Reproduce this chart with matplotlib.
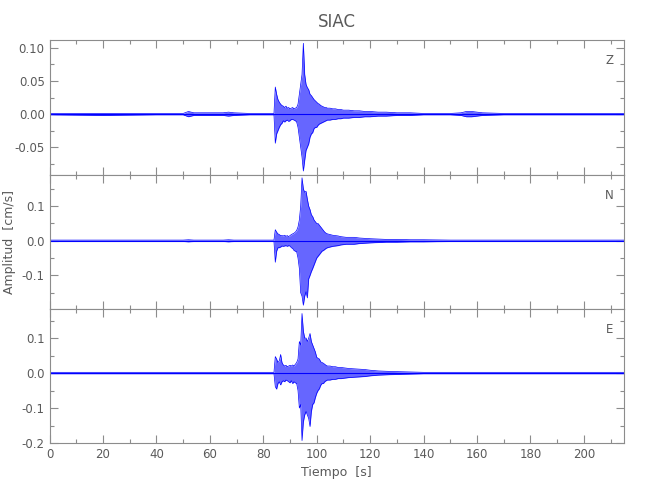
import matplotlib
matplotlib.use("Agg")
import matplotlib.pyplot as plt
from matplotlib.ticker import MultipleLocator, FormatStrFormatter

# ── Data: envelope of each trace (cm/s) ───────────────────────────────
t = [0, 20, 40, 50, 52, 54, 60, 65, 67, 69, 75, 84,
     84.5, 85, 85.5, 86, 86.5, 87, 87.5, 88, 88.5, 89, 89.5, 90, 90.5, 91,
     91.5, 92, 92.5, 93, 93.5, 94, 94.5, 95, 95.5, 96, 96.5, 97, 97.5, 98,
     98.5, 99, 99.5, 100, 100.5, 101, 101.5, 102, 102.5, 103, 103.5, 104,
     105, 106, 107, 108, 109, 110, 111, 112,
     114, 116, 118, 120, 123, 126, 130, 135, 140, 150,
     154, 156, 158, 160, 162,
     170, 185, 200, 215]

z_hi = [0.001, 0.001, 0.001, 0.001, 0.004, 0.002, 0.002, 0.002, 0.003, 0.002, 0.001, 0.001,
        0.041, 0.030, 0.022, 0.018, 0.015, 0.013, 0.012, 0.010, 0.012, 0.009, 0.010, 0.008,
        0.009, 0.010, 0.008, 0.009, 0.010, 0.015, 0.030, 0.045, 0.060, 0.107, 0.060, 0.045,
        0.040, 0.037, 0.030, 0.028, 0.025, 0.022, 0.020, 0.018, 0.016, 0.015, 0.013, 0.012,
        0.011, 0.010, 0.010, 0.009,
        0.009, 0.008, 0.008, 0.007, 0.007, 0.006, 0.006, 0.006,
        0.005, 0.005, 0.004, 0.004, 0.003, 0.003, 0.002, 0.002, 0.001, 0.001,
        0.002, 0.004, 0.004, 0.003, 0.002,
        0.001, 0.001, 0.001, 0.001]
z_lo = [-0.001, -0.002, -0.001, -0.001, -0.004, -0.002, -0.002, -0.002, -0.003, -0.002, -0.001, -0.001,
        -0.044, -0.030, -0.025, -0.020, -0.016, -0.014, -0.010, -0.012, -0.010, -0.009, -0.011, -0.010,
        -0.008, -0.008, -0.009, -0.010, -0.012, -0.020, -0.035, -0.050, -0.065, -0.086, -0.070, -0.055,
        -0.050, -0.045, -0.035, -0.030, -0.028, -0.022, -0.020, -0.020, -0.017, -0.015, -0.014, -0.013,
        -0.012, -0.011, -0.010, -0.009,
        -0.009, -0.008, -0.008, -0.007, -0.007, -0.006, -0.006, -0.006,
        -0.005, -0.005, -0.004, -0.004, -0.003, -0.003, -0.002, -0.002, -0.001, -0.001,
        -0.002, -0.004, -0.004, -0.003, -0.002,
        -0.001, -0.001, -0.001, -0.001]

n_hi = [0.002, 0.002, 0.002, 0.002, 0.003, 0.002, 0.002, 0.002, 0.003, 0.002, 0.002, 0.002,
        0.032, 0.025, 0.020, 0.018, 0.015, 0.015, 0.014, 0.016, 0.013, 0.015, 0.012, 0.015,
        0.018, 0.020, 0.022, 0.025, 0.030, 0.040, 0.060, 0.100, 0.182, 0.150, 0.140, 0.143,
        0.120, 0.100, 0.090, 0.075, 0.070, 0.060, 0.055, 0.050, 0.050, 0.045, 0.040, 0.035,
        0.030, 0.025, 0.022, 0.020,
        0.018, 0.016, 0.015, 0.014, 0.012, 0.011, 0.010, 0.010,
        0.010, 0.008, 0.007, 0.006, 0.005, 0.004, 0.004, 0.003, 0.003, 0.002,
        0.002, 0.002, 0.002, 0.002, 0.002,
        0.002, 0.002, 0.002, 0.002]
n_lo = [-0.002, -0.002, -0.002, -0.002, -0.003, -0.002, -0.002, -0.002, -0.003, -0.002, -0.002, -0.002,
        -0.062, -0.030, -0.020, -0.020, -0.018, -0.015, -0.016, -0.015, -0.014, -0.016, -0.014, -0.015,
        -0.020, -0.022, -0.028, -0.030, -0.032, -0.050, -0.080, -0.150, -0.160, -0.186, -0.160, -0.147,
        -0.165, -0.110, -0.100, -0.089, -0.080, -0.070, -0.060, -0.050, -0.045, -0.040, -0.035, -0.030,
        -0.028, -0.025, -0.022, -0.020,
        -0.018, -0.016, -0.015, -0.014, -0.012, -0.011, -0.010, -0.010,
        -0.010, -0.008, -0.007, -0.006, -0.005, -0.004, -0.004, -0.003, -0.003, -0.002,
        -0.002, -0.002, -0.002, -0.002, -0.002,
        -0.002, -0.002, -0.002, -0.002]

e_hi = [0.002, 0.002, 0.002, 0.002, 0.002, 0.002, 0.002, 0.002, 0.002, 0.002, 0.002, 0.002,
        0.047, 0.040, 0.030, 0.035, 0.053, 0.030, 0.023, 0.020, 0.022, 0.018, 0.020, 0.022,
        0.020, 0.023, 0.020, 0.025, 0.030, 0.040, 0.090, 0.080, 0.170, 0.120, 0.100, 0.100,
        0.090, 0.100, 0.113, 0.090, 0.080, 0.070, 0.060, 0.045, 0.042, 0.040, 0.032, 0.030,
        0.028, 0.025, 0.022, 0.020,
        0.020, 0.018, 0.018, 0.016, 0.016, 0.015, 0.014, 0.013,
        0.012, 0.011, 0.010, 0.008, 0.006, 0.005, 0.004, 0.003, 0.002, 0.002,
        0.002, 0.002, 0.002, 0.002, 0.002,
        0.002, 0.002, 0.002, 0.002]
e_lo = [-0.002, -0.002, -0.002, -0.002, -0.002, -0.002, -0.002, -0.002, -0.002, -0.002, -0.002, -0.002,
        -0.039, -0.046, -0.030, -0.025, -0.034, -0.025, -0.022, -0.025, -0.020, -0.022, -0.025, -0.028,
        -0.022, -0.030, -0.025, -0.028, -0.030, -0.050, -0.100, -0.090, -0.193, -0.140, -0.120, -0.110,
        -0.120, -0.130, -0.153, -0.110, -0.090, -0.085, -0.070, -0.058, -0.050, -0.045, -0.035, -0.030,
        -0.030, -0.025, -0.022, -0.020,
        -0.020, -0.018, -0.018, -0.016, -0.016, -0.015, -0.014, -0.013,
        -0.012, -0.011, -0.010, -0.008, -0.006, -0.005, -0.004, -0.003, -0.002, -0.002,
        -0.002, -0.002, -0.002, -0.002, -0.002,
        -0.002, -0.002, -0.002, -0.002]

components = ["Z", "N", "E"]
ylims = [(-0.092, 0.112), (-0.197, 0.19), (-0.2, 0.183)]
yticks = [[-0.05, 0.0, 0.05, 0.10], [-0.1, 0.0, 0.1], [-0.2, -0.1, 0.0, 0.1]]
yminor = [0.025, 0.05, 0.05]
yfmt = ["%.2f", "%.1f", "%.1f"]
traces = [(z_hi, z_lo), (n_hi, n_lo), (e_hi, e_lo)]

# ── Style ─────────────────────────────────────────────────────────────
gray = "#5a5a5a"
spine = "#8c8c8c"
plt.rcParams["font.family"] = ["DejaVu Sans"]
plt.rcParams["axes.unicode_minus"] = True

fig = plt.figure(figsize=(6.5, 5.0), dpi=100)
left, right = 49.5 / 650, 624 / 650
edges = [40, 175, 309, 443]

for i, comp in enumerate(components):
    top = 1 - edges[i] / 500
    bot = 1 - edges[i + 1] / 500
    ax = fig.add_axes([left, bot, right - left, top - bot])
    hi, lo = traces[i]

    # envelope of the trace, with darker edges and the zero line
    ax.fill_between(t, lo, hi, color="#0000ff", alpha=0.6, lw=0)
    ax.plot(t, hi, color="#0000ff", lw=0.5)
    ax.plot(t, lo, color="#0000ff", lw=0.5)
    ax.plot([0, 215], [0, 0], color="#0000ff", lw=0.8)

    ax.set_xlim(0, 215)
    ax.set_ylim(*ylims[i])
    ax.set_yticks(yticks[i])
    ax.yaxis.set_major_formatter(FormatStrFormatter(yfmt[i]))
    ax.yaxis.set_minor_locator(MultipleLocator(yminor[i]))
    ax.xaxis.set_major_locator(MultipleLocator(20))
    ax.xaxis.set_minor_locator(MultipleLocator(10))
    ax.tick_params(which="both", direction="in", top=True, right=True,
                   colors=spine, labelcolor=gray, labelsize=8.5, width=0.8)
    ax.tick_params(which="major", length=6)
    ax.tick_params(which="minor", length=3)
    for s in ax.spines.values():
        s.set_color(spine)
        s.set_linewidth(0.8)
    if i < 2:
        ax.tick_params(labelbottom=False)
    else:
        ax.set_xlabel("Tiempo  [s]", color=gray, fontsize=9, labelpad=4)
    if i == 1:
        ax.set_ylabel("Amplitud  [cm/s]", color=gray, fontsize=9, labelpad=4)

    ax.text(0.975, 0.85, comp, transform=ax.transAxes, color=gray,
            fontsize=8.5, ha="center", va="center")

fig.text(337 / 650, 1 - 22 / 500, "SIAC", color=gray, fontsize=12,
         ha="center", va="center")

fig.savefig("out.png", dpi=100)
